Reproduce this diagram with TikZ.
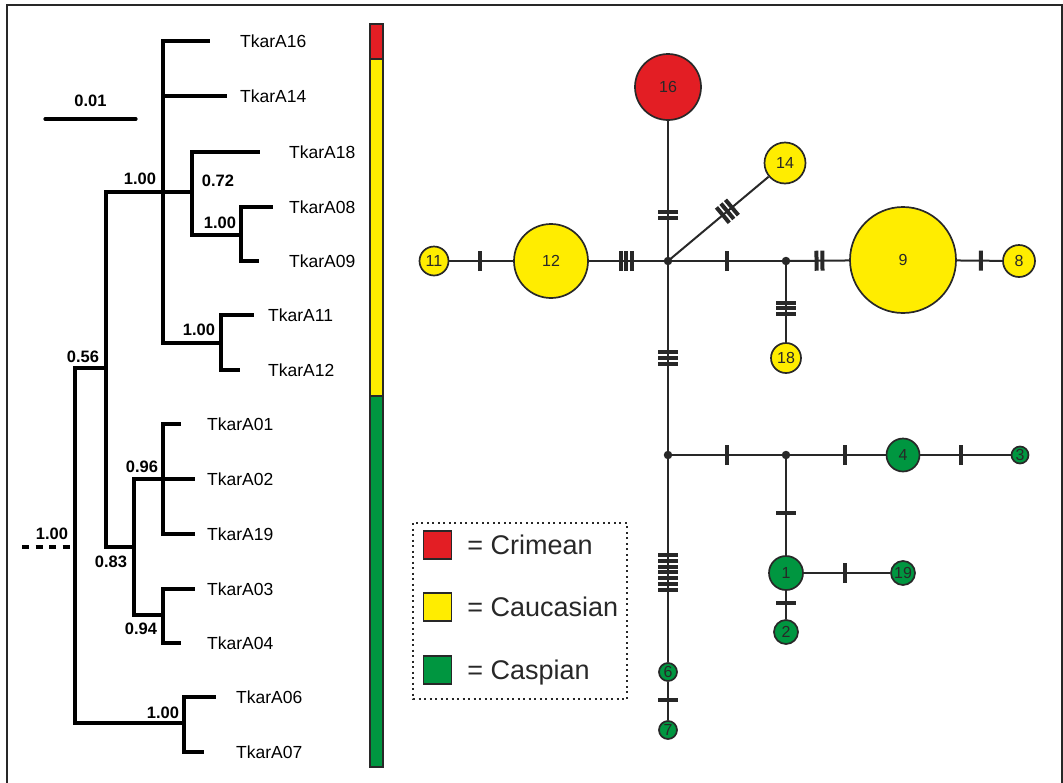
\documentclass[tikz,border=0pt]{standalone}
\usepackage{fontspec}
\setmainfont{Liberation Sans}
\usetikzlibrary{positioning,calc}
\definecolor{crimred}{RGB}{227,30,36}
\definecolor{caucyellow}{RGB}{255,237,0}
\definecolor{caspgreen}{RGB}{0,150,64}
\definecolor{inkgray}{RGB}{40,40,40}
\newcommand{\mutbar}{\rule[-10pt]{4pt}{20pt}}
\newcommand{\mutbars}[1]{\mutbar\ifnum#1>1 \foreach\i in {2,...,#1}{\kern1.9pt\mutbar}\fi}
\tikzset{
  branch/.style={line width=3.4pt, line cap=rect, draw=black},
  tiplabel/.style={anchor=west, inner sep=0pt, font=\fontsize{17.5}{20}\selectfont},
  support/.style={inner sep=0pt, font=\bfseries\fontsize{16.5}{19}\selectfont},
  netline/.style={line width=2pt, draw=inkgray},
  hap/.style={circle, draw=inkgray, line width=1.7pt, fill=#1, inner sep=0pt, text=inkgray, font=\fontsize{16}{18}\selectfont},
  junction/.style={circle, fill=inkgray, inner sep=0pt, minimum size=8.5pt},
  mut/.style={sloped, inner sep=0pt, text=inkgray},
  barseg/.style={draw=inkgray, line width=1.2pt, fill=#1},
  legkey/.style={draw=inkgray, line width=1.5pt, fill=#1, minimum size=28pt, inner sep=0pt},
  legtext/.style={inner sep=0pt, text height=19.5pt, text depth=0pt, font=\fontsize{27}{30}\selectfont, text=inkgray}
}

\begin{document}
\begin{tikzpicture}[x=1pt,y=-1pt]
  \useasboundingbox (0,0) rectangle (1063,782);
  \draw[inkgray, line width=1.6pt] (7,783) -- (7,5) -- (1062,5) -- (1062,783);

  % Bayesian tree, each internal node sits on the stem of its clade.
  \coordinate (nroot) at (75,547);
  \coordinate (n056) at (106,368);
  \coordinate (n100a) at (163,192);
  \coordinate (n072) at (192,192);
  \coordinate (n100b) at (241,235);
  \coordinate (n100d) at (221,343);
  \coordinate (n083) at (134,547);
  \coordinate (n096) at (163,479);
  \coordinate (n094) at (163,615);
  \coordinate (n100c) at (184,723);
  \coordinate (t16) at (208,41);
  \coordinate (t14) at (225,96);
  \coordinate (t18) at (258,152);
  \coordinate (t08) at (271,207);
  \coordinate (t09) at (257,261);
  \coordinate (t11) at (252,315);
  \coordinate (t12) at (238,370);
  \coordinate (t01) at (179,424);
  \coordinate (t02) at (193,479);
  \coordinate (t19) at (193,534);
  \coordinate (t03) at (193,589);
  \coordinate (t04) at (179,643);
  \coordinate (t06) at (214,697);
  \coordinate (t07) at (202,752);
  \foreach \p/\c in {nroot/n056, nroot/n100c, n056/n100a, n056/n083,
      n100a/t16, n100a/t14, n100a/n072, n100a/n100d, n072/t18, n072/n100b,
      n100b/t08, n100b/t09, n100d/t11, n100d/t12, n083/n096, n083/n094,
      n096/t01, n096/t02, n096/t19, n094/t03, n094/t04, n100c/t06, n100c/t07}
    \draw[branch] (\p) |- (\c);
  \coordinate (rootstub) at (22,547);
  \draw[branch, line cap=butt, dash pattern=on 7pt off 6.5pt] (rootstub) -- (nroot);

  \node[tiplabel] (l16) at (240,41) {TkarA16};
  \node[tiplabel] (l14) at (240,96) {TkarA14};
  \node[tiplabel] (l18) at (289,152) {TkarA18};
  \node[tiplabel] (l08) at (289,207) {TkarA08};
  \node[tiplabel] (l09) at (289,261) {TkarA09};
  \node[tiplabel] (l11) at (268,315) {TkarA11};
  \node[tiplabel] (l12) at (268,370) {TkarA12};
  \node[tiplabel] (l01) at (207,424) {TkarA01};
  \node[tiplabel] (l02) at (207,479) {TkarA02};
  \node[tiplabel] (l19) at (207,534) {TkarA19};
  \node[tiplabel] (l03) at (207,589) {TkarA03};
  \node[tiplabel] (l04) at (207,643) {TkarA04};
  \node[tiplabel] (l06) at (236,697) {TkarA06};
  \node[tiplabel] (l07) at (236,752) {TkarA07};

  \node[support] (s100a) at (140,179) {1.00};
  \node[support] (s072) at (218,181) {0.72};
  \node[support] (s100b) at (220,223) {1.00};
  \node[support] (s100d) at (199,330) {1.00};
  \node[support] (s056) at (83,357) {0.56};
  \node[support] (sroot) at (52,534) {1.00};
  \node[support] (s083) at (111,562) {0.83};
  \node[support] (s096) at (142,467) {0.96};
  \node[support] (s094) at (141,629) {0.94};
  \node[support] (s100c) at (163,713) {1.00};

  % Scale bar
  \coordinate (scaleL) at (45,119);
  \coordinate (scaleR) at (136,119);
  \draw[branch, line cap=round, line width=3.2pt] (scaleL) -- node[support, above=11pt] (scaletxt) {0.01} (scaleR);

  % Region bar
  \draw[barseg=crimred] (370,24) rectangle (383,59);
  \draw[barseg=caucyellow] (370,59) rectangle (383,396);
  \draw[barseg=caspgreen] (370,396) rectangle (383,767);

  % Haplotype network
  \node[junction] (hub) at (668,261) {};
  \node[junction] (jA) at (786,261) {};
  \node[junction] (jB) at (668,455) {};
  \node[junction] (jC) at (786,455) {};
  \node[hap=crimred, minimum size=66pt] (h16) at (668,87) {16};
  \node[hap=caucyellow, minimum size=41pt] (h14) at (785,163) {14};
  \node[hap=caucyellow, minimum size=74pt] (h12) at (551,261) {12};
  \node[hap=caucyellow, minimum size=29pt] (h11) at (434,261) {11};
  \node[hap=caucyellow, minimum size=106pt] (h9) at (903,260) {9};
  \node[hap=caucyellow, minimum size=32pt] (h8) at (1019,261) {8};
  \node[hap=caucyellow, minimum size=30pt] (h18) at (786,358) {18};
  \node[hap=caspgreen, minimum size=33pt] (h4) at (903,455) {4};
  \node[hap=caspgreen, minimum size=17pt] (h3) at (1020,455) {3};
  \node[hap=caspgreen, minimum size=34pt] (h1) at (786,573) {1};
  \node[hap=caspgreen, minimum size=24pt] (h19) at (903,573) {19};
  \node[hap=caspgreen, minimum size=24pt] (h2) at (786,632) {2};
  \node[hap=caspgreen, minimum size=18pt] (h6) at (668,672) {6};
  \node[hap=caspgreen, minimum size=18pt] (h7) at (668,730) {7};

  \draw[netline] (hub.center) -- node[mut, pos=.33] {\mutbars{2}} (h16);
  \draw[netline] (hub.center) -- node[mut, pos=.59] {\mutbars{3}} (h14);
  \draw[netline] (h11) -- node[mut, pos=.48] {\mutbars{1}} (h12);
  \draw[netline] (h12) -- node[mut, pos=.475] {\mutbars{3}} (hub.center);
  \draw[netline] (hub.center) -- node[mut, pos=.5] {\mutbars{1}} (jA.center);
  \draw[netline] (jA.center) -- node[mut, pos=.53] {\mutbars{2}} (h9);
  \draw[netline] (h9) -- node[mut, pos=.53] {\mutbars{1}} (h8);
  \draw[netline] (jA.center) -- node[mut, pos=.585] {\mutbars{3}} (h18);
  \draw[netline] (hub.center) -- node[mut, pos=.5] {\mutbars{3}} (jB.center);
  \draw[netline] (jB.center) -- node[mut, pos=.5] {\mutbars{1}} (jC.center);
  \draw[netline] (jC.center) -- node[mut, pos=.587] {\mutbars{1}} (h4);
  \draw[netline] (h4) -- node[mut, pos=.45] {\mutbars{1}} (h3);
  \draw[netline] (jC.center) -- node[mut, pos=.584] {\mutbars{1}} (h1);
  \draw[netline] (h1) -- node[mut, pos=.477] {\mutbars{1}} (h19);
  \draw[netline] (h1) -- node[mut, pos=.42] {\mutbars{1}} (h2);
  \draw[netline] (jB.center) -- node[mut, pos=.567] {\mutbars{7}} (h6);
  \draw[netline] (h6) -- node[mut, pos=.475] {\mutbars{1}} (h7);

  % Legend
  \draw[inkgray, line width=2pt, dash pattern=on 2pt off 3.5pt] (413,523) rectangle (627,699);
  \node[legkey=crimred] (kcrim) at (437.5,545) {};
  \node[legkey=caucyellow] (kcauc) at (437.5,607) {};
  \node[legkey=caspgreen] (kcasp) at (437.5,670) {};
  \node[legtext, right=15pt of kcrim] (tcrim) {= Crimean};
  \node[legtext, right=15pt of kcauc] (tcauc) {= Caucasian};
  \node[legtext, right=15pt of kcasp] (tcasp) {= Caspian};
\end{tikzpicture}
\end{document}
